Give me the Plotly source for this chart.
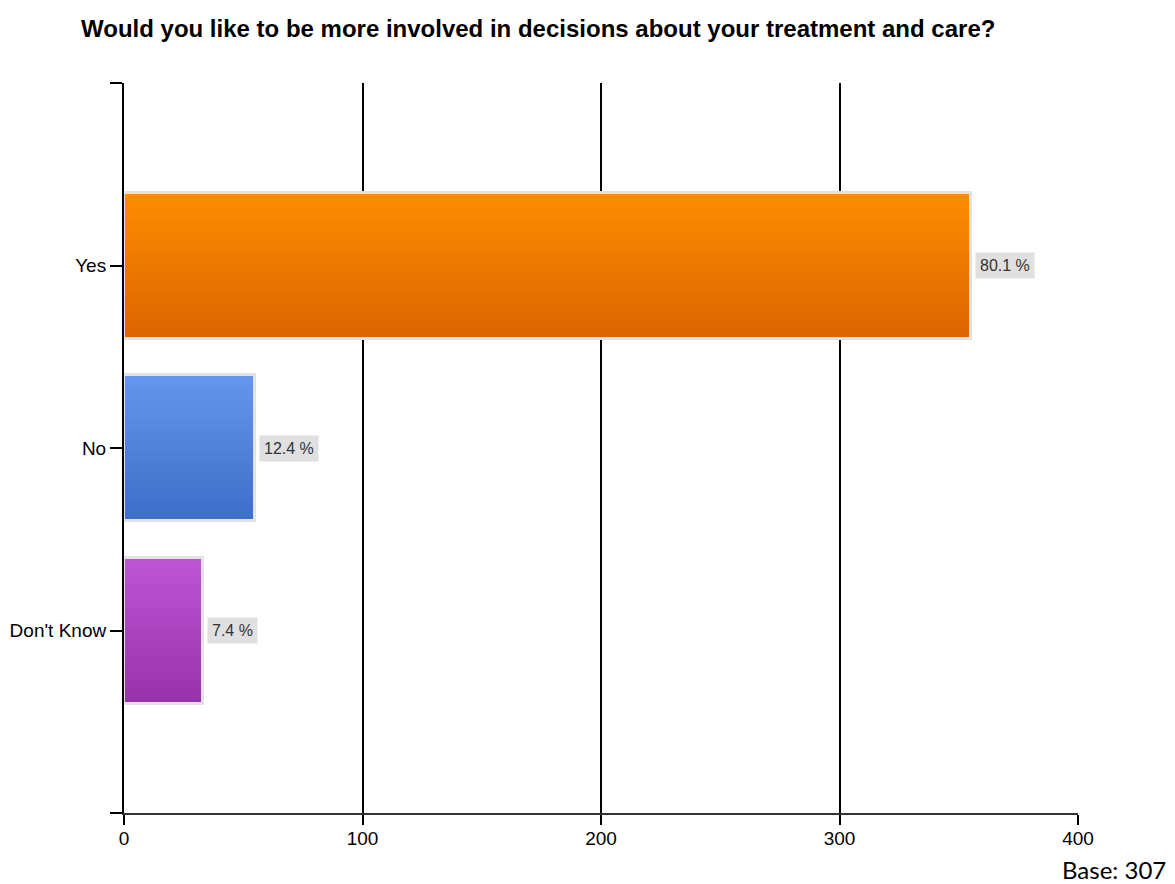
import plotly.graph_objects as go

# Survey responses
categories = ["Yes", "No", "Don't Know"]
counts = [355, 55, 33]
base_n = 307

# Gradient colour stops per bar (top, bottom)
top_colors = [(255, 142, 0), (102, 150, 236), (188, 86, 212)]
bottom_colors = [(219, 100, 0), (60, 110, 200), (152, 50, 170)]

x_ticks = [0, 100, 200, 300, 400]

total = sum(counts)
pcts = [c / total * 100 for c in counts]
positions = list(range(len(categories)))

bar_h = 0.8
n_slices = 40
slice_h = bar_h / n_slices

fig = go.Figure()

# Bars built from thin horizontal slices so the fill shades from top to bottom
for i in range(n_slices):
    t = (i + 0.5) / n_slices
    cols = []
    for tc, bc in zip(top_colors, bottom_colors):
        r, g, b = (round(tc[k] + (bc[k] - tc[k]) * t) for k in range(3))
        cols.append(f"rgb({r},{g},{b})")
    centre = -bar_h / 2 + (i + 0.5) * slice_h
    fig.add_trace(go.Bar(
        x=counts,
        y=[p + centre for p in positions],
        orientation="h",
        width=slice_h * 1.15,
        marker=dict(color=cols, line=dict(width=0)),
        hoverinfo="skip",
        showlegend=False,
    ))

# Light outline around each bar
fig.add_trace(go.Bar(
    x=counts,
    y=positions,
    orientation="h",
    width=bar_h,
    marker=dict(color="rgba(0,0,0,0)", line=dict(color="#e2e2e2", width=3)),
    hoverinfo="skip",
    showlegend=False,
))

# Percentage labels beside the bars
for p, c, pct in zip(positions, counts, pcts):
    fig.add_annotation(
        x=c, y=p, xref="x", yref="y",
        text=f"{pct:.1f} %",
        showarrow=False,
        xanchor="left", yanchor="middle",
        xshift=4,
        bgcolor="#e0e0e0",
        borderpad=4,
        font=dict(family="Liberation Sans, Arial, sans-serif", size=16, color="#333333"),
    )

# Title
fig.add_annotation(
    text="<b>Would you like to be more involved in decisions about your treatment and care?</b>",
    xref="paper", yref="paper",
    x=(538 - 124) / (1078 - 124), y=1,
    yshift=55,
    xanchor="center", yanchor="middle",
    showarrow=False,
    font=dict(family="Liberation Sans, Arial, sans-serif", size=24, color="black"),
)

# Base note
fig.add_annotation(
    text=f"Base: {base_n}",
    xref="paper", yref="paper",
    x=(1167 - 124) / (1078 - 124), y=0,
    yshift=-56,
    xanchor="right", yanchor="middle",
    showarrow=False,
    borderpad=0,
    font=dict(family="Lato, Carlito, sans-serif", size=24, color="black"),
)

fig.update_layout(
    width=1175, height=884,
    margin=dict(l=124, r=97, t=83, b=71),
    paper_bgcolor="white",
    plot_bgcolor="white",
    barmode="overlay",
    bargap=0,
    font=dict(family="Liberation Sans, Arial, sans-serif", size=19, color="black"),
    xaxis=dict(
        range=[0, 400],
        tickvals=x_ticks,
        showgrid=True, gridcolor="black", gridwidth=1.5,
        zeroline=False,
        showline=True, linecolor="#333333", linewidth=2,
        ticks="outside", ticklen=10, tickwidth=1.5, tickcolor="black",
        tickfont=dict(size=19, color="black"),
        ticklabelstandoff=-3,
        automargin=False,
        fixedrange=True,
    ),
    yaxis=dict(
        range=[len(categories), -1],
        tickvals=[-1] + positions + [len(categories)],
        ticktext=[""] + categories + [""],
        showgrid=False, zeroline=False,
        showline=True, linecolor="black", linewidth=2,
        ticks="outside", ticklen=12, tickwidth=1.5, tickcolor="black",
        tickfont=dict(size=19, color="black"),
        automargin=False,
        fixedrange=True,
    ),
)

fig.write_html("out.html")
